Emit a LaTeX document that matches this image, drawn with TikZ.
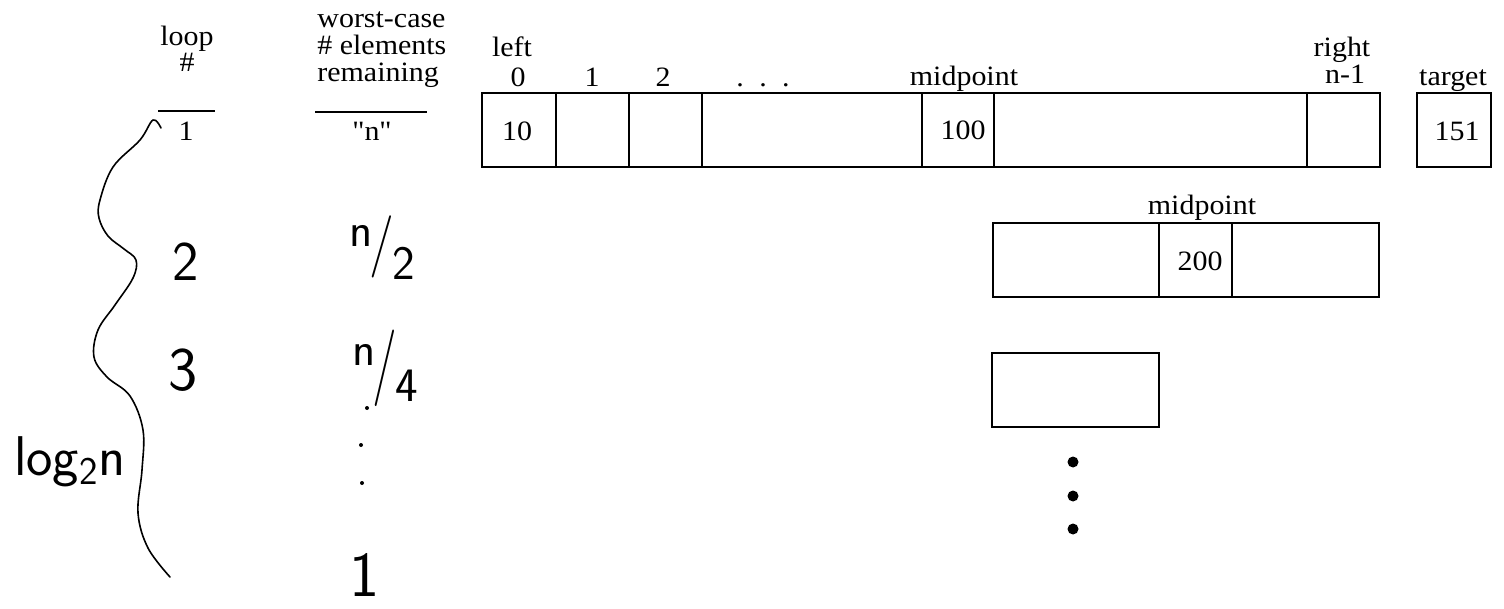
\documentclass[tikz,border=0pt]{standalone}
\usepackage{fontspec}
\setmainfont{Liberation Serif}[Ligatures=TeXOff, FakeStretch=1.07]
\begin{document}
\begin{tikzpicture}[x=0.5pt,y=-0.5pt,
  lbl/.style={font=\fontsize{14}{14}\selectfont, inner sep=0pt, anchor=base},
  val/.style={font=\fontsize{14}{14}\selectfont, inner sep=0pt},
  hand/.style={font=\sffamily\fontsize{#1}{#1}\selectfont, inner sep=0pt},
  cellbox/.style={draw, line width=0.8pt, inner sep=0pt, minimum height=37pt},
  rule/.style={line width=0.7pt},
  pen/.style={line width=0.8pt, line cap=round, line join=round},
  bigdot/.style={circle, fill, inner sep=0pt, minimum size=5.5pt},
  tinydot/.style={circle, fill, inner sep=0pt, minimum size=2pt}
]
\useasboundingbox (0,0) rectangle (1504,609);

% ---------- left headers ----------
\node[lbl] (loop) at (187,46) {loop};
\node[lbl] (hash) at (187,72) {\#};
\coordinate (lr1) at (158,111);
\coordinate (lr2) at (215,111);
\draw[rule] (lr1) -- (lr2);
\node[lbl] (one) at (186,141) {1};

\node[lbl, anchor=base west] (wc) at (317,28) {worst-case};
\node[lbl, anchor=base west] (el) at (317,55) {\# elements};
\node[lbl, anchor=base west] (rem) at (317,82) {remaining};
\coordinate (rr1) at (315,112);
\coordinate (rr2) at (427,112);
\draw[rule] (rr1) -- (rr2);
\node[lbl] (nq) at (372,141) {"n"};

% ---------- top array ----------
\node[cellbox, minimum width=37pt]   (c0) at (519,130) {};
\node[cellbox, minimum width=36.5pt] (c1) at (592.5,130) {};
\node[cellbox, minimum width=36.5pt] (c2) at (665.5,130) {};
\node[cellbox, minimum width=110pt]  (c3) at (812,130) {};
\node[cellbox, minimum width=36pt]   (c4) at (958,130) {};
\node[cellbox, minimum width=156.5pt] (c5) at (1150.5,130) {};
\node[cellbox, minimum width=36.5pt] (c6) at (1343.5,130) {};
\node[cellbox, minimum width=37pt]   (tg) at (1454,130) {};

\node[val] (v10) at (517,131) {10};
\node[val] (v100) at (963,130) {100};
\node[val] (v151) at (1457,131) {151};

\node[lbl] (left) at (512,57) {left};
\node[lbl] (right) at (1342,57) {right};
\node[lbl] (i0) at (518,87) {0};
\node[lbl] (i1) at (592,87) {1};
\node[lbl] (i2) at (663,87) {2};
\node[lbl] (idots) at (763,87) {.\hspace{0.55em}.\hspace{0.55em}.};
\node[lbl] (mid1) at (964,86) {midpoint};
\node[lbl] (inm1) at (1345,84) {n-1};
\node[lbl] (tgt) at (1453,86) {target};

% ---------- second array ----------
\node[cellbox, minimum width=83pt]   (d0) at (1076,260) {};
\node[cellbox, minimum width=36.5pt] (d1) at (1195.5,260) {};
\node[cellbox, minimum width=73.5pt] (d2) at (1305.5,260) {};
\node[val] (v200) at (1200,261) {200};
\node[lbl] (mid2) at (1202,215) {midpoint};

% ---------- third array ----------
\node[cellbox, minimum width=83.5pt] (e0) at (1075.5,390) {};
\node[bigdot] (p1) at (1073,462) {};
\node[bigdot] (p2) at (1073,496) {};
\node[bigdot] (p3) at (1073,529) {};

% ---------- handwritten part ----------
\draw[pen] plot[smooth, tension=0.6] coordinates {
  (161,128) (153,120) (140,140) (113,167) (100,200) (99,218) (108,236)
  (124,249) (136,260) (133,278) (115,305) (98,330) (94,357) (107,377)
  (130,396) (143,430) (142,470) (138,513) (148,548) (170,577)};

\node[hand=28] (h2) at (186,262) {2};
\node[hand=31] (h3) at (183,370) {3};
\node[hand=28] (hlog) at (70,462) {log\textsubscript{2}n};

\node[hand=24] (hn2) at (382,248) {\raisebox{0.35em}{n}\kern-0.05em\scalebox{1.1}[1.3]{/}\kern-0.05em\raisebox{-0.35em}{2}};
\node[hand=24] (hn4) at (385,368) {\raisebox{0.45em}{n}\kern-0.05em\scalebox{1.1}[1.6]{/}\kern-0.05em\raisebox{-0.3em}{4}};
\node[tinydot] (q1) at (367,408) {};
\node[tinydot] (q2) at (361,445) {};
\node[tinydot] (q3) at (362,483) {};
\node[hand=32, anchor=base] (hone) at (365,596) {1};

\end{tikzpicture}
\end{document}
